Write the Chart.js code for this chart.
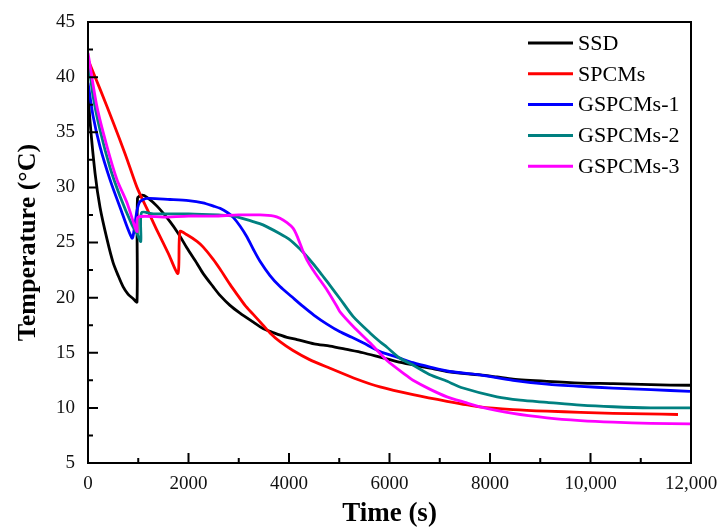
<!DOCTYPE html>
<html>
<head>
<meta charset="utf-8">
<script src="https://cdn.jsdelivr.net/npm/chart.js@4.4.1/dist/chart.umd.min.js"></script>
<style>
  html, body { margin: 0; padding: 0; background: #ffffff; }
  #wrap { width: 718px; height: 529px; }
</style>
</head>
<body>
<div id="wrap"><canvas id="c" width="718" height="529"></canvas></div>
<script>
// Cooling curves: time (s) and temperature (°C) for each sample
const seriesNames = ['SSD', 'SPCMs', 'GSPCMs-1', 'GSPCMs-2', 'GSPCMs-3'];
const seriesColors = ['#000000', '#ff0000', '#0000ff', '#008080', '#ff00ff'];

const ssdTime = [0, 40, 140, 239, 378, 498, 600, 697, 800, 900, 975, 985, 1075, 1174, 1373, 1632, 1800, 1970, 2169, 2289, 2488, 2627, 2826, 3025, 3284, 3483, 3700, 3960, 4159, 4500, 4816, 5150, 5473, 5811, 6149, 6468, 6806, 7144, 7500, 7801, 8139, 8458, 9134, 9800, 10448, 11200, 11980];
const ssdTemp = [38.8, 36.0, 31.3, 28.2, 25.3, 23.2, 22.0, 21.0, 20.3, 19.9, 19.6, 29.0, 29.3, 29.1, 28.3, 26.9, 25.8, 24.5, 23.1, 22.2, 21.0, 20.2, 19.3, 18.6, 17.8, 17.2, 16.8, 16.4, 16.2, 15.8, 15.6, 15.3, 15.0, 14.6, 14.2, 13.9, 13.6, 13.3, 13.1, 13.0, 12.8, 12.6, 12.4, 12.25, 12.2, 12.1, 12.05];

const spcmTime = [0, 250, 500, 750, 975, 1200, 1373, 1600, 1791, 1831, 1970, 2169, 2289, 2488, 2627, 2826, 2965, 3125, 3284, 3483, 3622, 3821, 4080, 4400, 4816, 5353, 5811, 6468, 7144, 7801, 8458, 9134, 9800, 10448, 11100, 11741];
const spcmTemp = [41.6, 38.8, 35.9, 32.9, 30.0, 27.8, 26.1, 24.0, 22.2, 26.0, 25.7, 25.1, 24.6, 23.5, 22.6, 21.2, 20.3, 19.3, 18.5, 17.5, 16.8, 16.0, 15.2, 14.4, 13.6, 12.6, 11.9, 11.2, 10.6, 10.1, 9.85, 9.7, 9.6, 9.5, 9.45, 9.4];

const gs1Time = [0, 100, 239, 438, 637, 876, 930, 975, 1035, 1174, 1632, 2000, 2289, 2500, 2627, 2780, 2886, 3025, 3164, 3300, 3423, 3622, 3821, 4050, 4279, 4500, 4756, 5015, 5250, 5473, 5811, 6149, 6468, 6806, 7200, 7801, 8458, 9134, 9800, 10448, 11200, 11980];
const gs1Temp = [39.5, 36.5, 33.7, 30.7, 28.2, 25.4, 26.5, 27.9, 28.7, 29.0, 28.9, 28.8, 28.6, 28.3, 28.1, 27.7, 27.3, 26.5, 25.5, 24.3, 23.3, 22.0, 21.0, 20.1, 19.2, 18.4, 17.6, 16.9, 16.4, 15.9, 15.1, 14.6, 14.1, 13.7, 13.3, 13.0, 12.5, 12.15, 11.95, 11.8, 11.65, 11.5];

const gs2Time = [0, 100, 239, 438, 637, 876, 975, 1050, 1065, 1300, 2000, 2600, 2900, 3284, 3483, 3821, 4000, 4219, 4400, 4617, 4800, 5015, 5274, 5612, 5811, 5950, 6209, 6500, 6806, 7100, 7463, 8139, 8600, 9134, 9800, 10448, 11200, 11980];
const gs2Temp = [41.9, 38.3, 35.2, 31.8, 29.2, 26.6, 25.8, 25.1, 27.7, 27.6, 27.6, 27.5, 27.4, 26.9, 26.6, 25.8, 25.3, 24.4, 23.5, 22.3, 21.2, 19.9, 18.3, 16.8, 16.0, 15.5, 14.5, 13.8, 13.0, 12.5, 11.8, 11.0, 10.7, 10.5, 10.25, 10.1, 10.0, 10.0];

const gs3Time = [0, 179, 378, 577, 776, 935, 975, 995, 1500, 2000, 2500, 3000, 3423, 3700, 3821, 3960, 4080, 4159, 4279, 4358, 4478, 4617, 4756, 4955, 5015, 5274, 5612, 5950, 6348, 6468, 6800, 7144, 7500, 7801, 8458, 9134, 9800, 10448, 11200, 11980];
const gs3Temp = [42.2, 37.3, 33.7, 30.7, 28.6, 26.4, 26.0, 27.3, 27.3, 27.4, 27.4, 27.5, 27.5, 27.4, 27.2, 26.8, 26.3, 25.6, 24.2, 23.4, 22.5, 21.6, 20.7, 19.2, 18.7, 17.4, 15.9, 14.3, 12.9, 12.5, 11.7, 11.0, 10.5, 10.1, 9.5, 9.1, 8.85, 8.7, 8.6, 8.55];

// Axis tick labels
const xTickLabels = ['0', '2000', '4000', '6000', '8000', '10,000', '12,000'];
const yTickLabels = ['5', '10', '15', '20', '25', '30', '35', '40', '45'];

const seriesTime = [ssdTime, spcmTime, gs1Time, gs2Time, gs3Time];
const seriesTemp = [ssdTemp, spcmTemp, gs1Temp, gs2Temp, gs3Temp];

const SERIF = "'Liberation Serif', 'Times New Roman', serif";

const datasets = seriesNames.map((name, i) => ({
  label: name,
  data: seriesTime[i].map((t, k) => ({ x: t, y: seriesTemp[i][k] })),
  borderColor: seriesColors[i],
  backgroundColor: seriesColors[i],
  borderWidth: 2.8,
  pointRadius: 0,
  tension: 0.25,
  fill: false,
  order: seriesNames.length - i
}));

// Frame around the plot, inward major/minor ticks on the left and bottom axes
const framePlugin = {
  id: 'frame',
  afterDatasetsDraw(chart) {
    const { ctx, chartArea: a, scales } = chart;
    ctx.save();
    ctx.strokeStyle = '#000';
    ctx.lineWidth = 2;
    ctx.strokeRect(a.left, a.top, a.right - a.left, a.bottom - a.top);

    const drawTicks = (scale, horizontal) => {
      const vals = scale.ticks.map(t => t.value);
      const minors = [];
      for (let i = 0; i < vals.length - 1; i++) minors.push((vals[i] + vals[i + 1]) / 2);
      ctx.beginPath();
      vals.forEach(v => {
        const p = scale.getPixelForValue(v);
        if (horizontal) { ctx.moveTo(p, a.bottom); ctx.lineTo(p, a.bottom - 10); }
        else { ctx.moveTo(a.left, p); ctx.lineTo(a.left + 10, p); }
      });
      minors.forEach(v => {
        const p = scale.getPixelForValue(v);
        if (horizontal) { ctx.moveTo(p, a.bottom); ctx.lineTo(p, a.bottom - 5); }
        else { ctx.moveTo(a.left, p); ctx.lineTo(a.left + 5, p); }
      });
      ctx.stroke();
    };
    drawTicks(scales.x, true);
    drawTicks(scales.y, false);
    ctx.restore();
  }
};

// Legend drawn inside the plot, top right
const insideLegend = {
  id: 'insideLegend',
  afterDraw(chart) {
    const { ctx } = chart;
    ctx.save();
    ctx.font = '22px ' + SERIF;
    ctx.textBaseline = 'middle';
    ctx.textAlign = 'left';
    chart.data.datasets.forEach((ds, i) => {
      const y = 43 + i * 30.8;
      ctx.strokeStyle = ds.borderColor;
      ctx.lineWidth = 3;
      ctx.beginPath();
      ctx.moveTo(528, y);
      ctx.lineTo(573, y);
      ctx.stroke();
      ctx.fillStyle = '#000';
      ctx.fillText(ds.label, 578, y + 1);
    });
    ctx.restore();
  }
};

new Chart(document.getElementById('c'), {
  type: 'line',
  data: { datasets },
  options: {
    responsive: false,
    animation: false,
    devicePixelRatio: 1,
    layout: { padding: { top: 22, right: 27, bottom: 0, left: 0 } },
    plugins: { legend: { display: false }, tooltip: { enabled: false } },
    scales: {
      x: {
        type: 'linear',
        min: 0, max: 12000,
        afterFit(s) { s.height = 66; s.paddingLeft = 0; s.paddingRight = 0; },
        grid: { display: false, drawTicks: false, tickLength: 0 },
        border: { display: false },
        ticks: {
          stepSize: 2000,
          padding: 10,
          maxRotation: 0,
          color: '#111',
          font: { family: SERIF, size: 19 },
          callback: (v, i) => xTickLabels[i]
        },
        title: {
          display: true,
          text: 'Time (s)',
          color: '#000',
          font: { family: SERIF, size: 27, weight: 'bold', lineHeight: 1.1 },
          padding: { top: 0, bottom: 0 }
        }
      },
      y: {
        type: 'linear',
        min: 5, max: 45,
        afterFit(s) { s.width = 88; s.paddingTop = 0; s.paddingBottom = 0; },
        grid: { display: false, drawTicks: false, tickLength: 0 },
        border: { display: false },
        ticks: {
          stepSize: 5,
          padding: 13,
          color: '#111',
          font: { family: SERIF, size: 19 },
          callback: (v, i) => yTickLabels[i]
        },
        title: {
          display: true,
          text: 'Temperature (°C)',
          color: '#000',
          font: { family: SERIF, size: 26, weight: 'bold' },
          padding: { top: 13, bottom: 0 }
        }
      }
    }
  },
  plugins: [framePlugin, insideLegend]
});
</script>
</body>
</html>
